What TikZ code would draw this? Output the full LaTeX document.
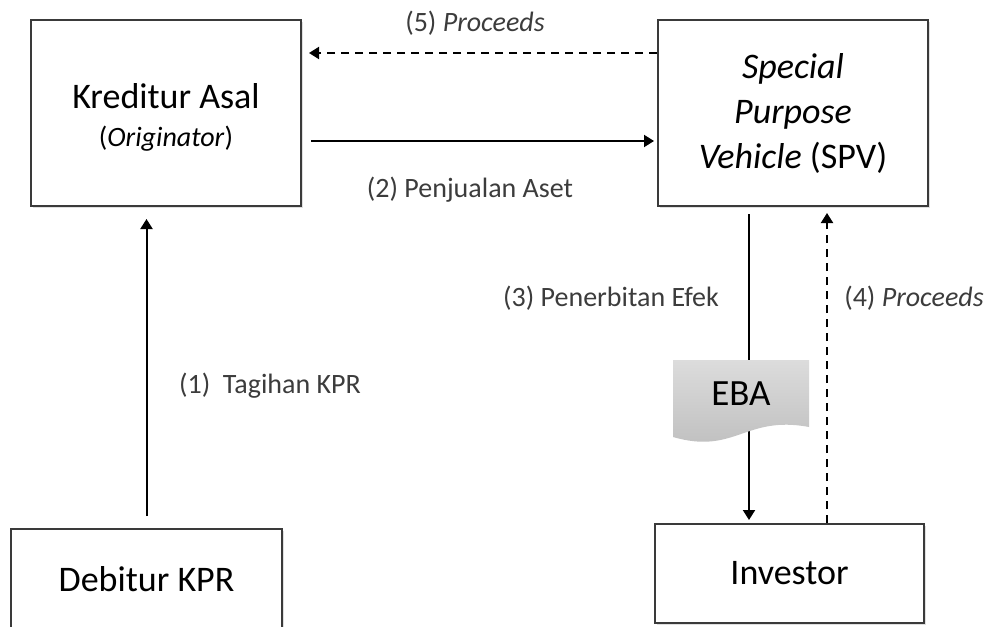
\documentclass[tikz,border=0pt]{standalone}
\usepackage{fontspec}
\setmainfont{Carlito}
\usetikzlibrary{arrows.meta,shadows}

\definecolor{linegray}{HTML}{3A3A3A}
\definecolor{labelgray}{HTML}{3C3C3C}
\definecolor{docTop}{HTML}{DCDCDC}
\definecolor{docBottom}{HTML}{BDBDBD}

\begin{document}
\begin{tikzpicture}[x=0.5pt, y=-0.5pt,
	party/.style = {draw=linegray, line width=1pt, fill=white, align=center,
		font=\fontsize{18}{22.5}\selectfont,
		drop shadow={shadow xshift=0.8pt, shadow yshift=-0.8pt, opacity=0.25}},
	flow/.style = {line width=1pt, -{Triangle[length=5pt, width=6pt]}},
	lbl/.style = {anchor=base, text=labelgray, font=\fontsize{14}{16}\selectfont}]
	\useasboundingbox (0,0) rectangle (994,626);
	% the four parties
	\node[party, minimum width=135pt, minimum height=93pt, font=\fontsize{18}{19}\selectfont] (kred) at (166,113)
		{\rule{0pt}{17pt}Kreditur Asal\\{\fontsize{14}{16}\selectfont(\textit{Originator})}};
	\node[party, minimum width=135pt, minimum height=93pt] (spv) at (793,113)
		{\textit{Special}\\\textit{Purpose}\\\textit{Vehicle} (SPV)};
	\node[party, minimum width=135.5pt, minimum height=50pt] (deb) at (146.5,579) {Debitur KPR};
	\node[party, minimum width=134.5pt, minimum height=49.5pt] (inv) at (789.5,573.5) {Investor};
	\coordinate (spvL) at ([xshift=-22pt]spv.south);
	\coordinate (spvR) at ([xshift=17pt]spv.south);
	% flows
	\draw[flow] (deb.north) ++(0,-12) -- (deb.north |- kred.south) [shorten >=6pt];
	\draw[flow, shorten <=4.5pt, shorten >=1.5pt] ([yshift=-14pt]kred.east) -- ([yshift=-14pt]spv.west);
	\draw[flow, shorten <=3.5pt, shorten >=1.5pt] (spvL) -- (spvL |- inv.north);
	\draw[flow, dashed, dash pattern=on 4pt off 3pt, shorten >=3pt] (spvR |- inv.north) -- (spvR);
	\draw[flow, dashed, dash pattern=on 4pt off 3pt, shorten >=3.5pt] ([yshift=30pt]spv.west) -- ([yshift=30pt]kred.east);
	% the EBA document
	\shade[top color=docTop, bottom color=docBottom] (673,360) -- (809,360) -- (809,427)
		.. controls (745,415) and (735,455) .. (673,437) -- cycle;
	\node[anchor=base, font=\fontsize{18.5}{20}\selectfont] (eba) at (741,405) {EBA};
	% labels
	\node[lbl] (l1) at (270,393) {(1)~~Tagihan KPR};
	\node[lbl] (l2) at (470,197) {(2) Penjualan Aset};
	\node[lbl] (l3) at (611,306) {(3) Penerbitan Efek};
	\node[lbl] (l4) at (914,306) {(4) \textit{Proceeds}};
	\node[lbl] (l5) at (475,32) {(5) \textit{Proceeds}};
\end{tikzpicture}
\end{document}
